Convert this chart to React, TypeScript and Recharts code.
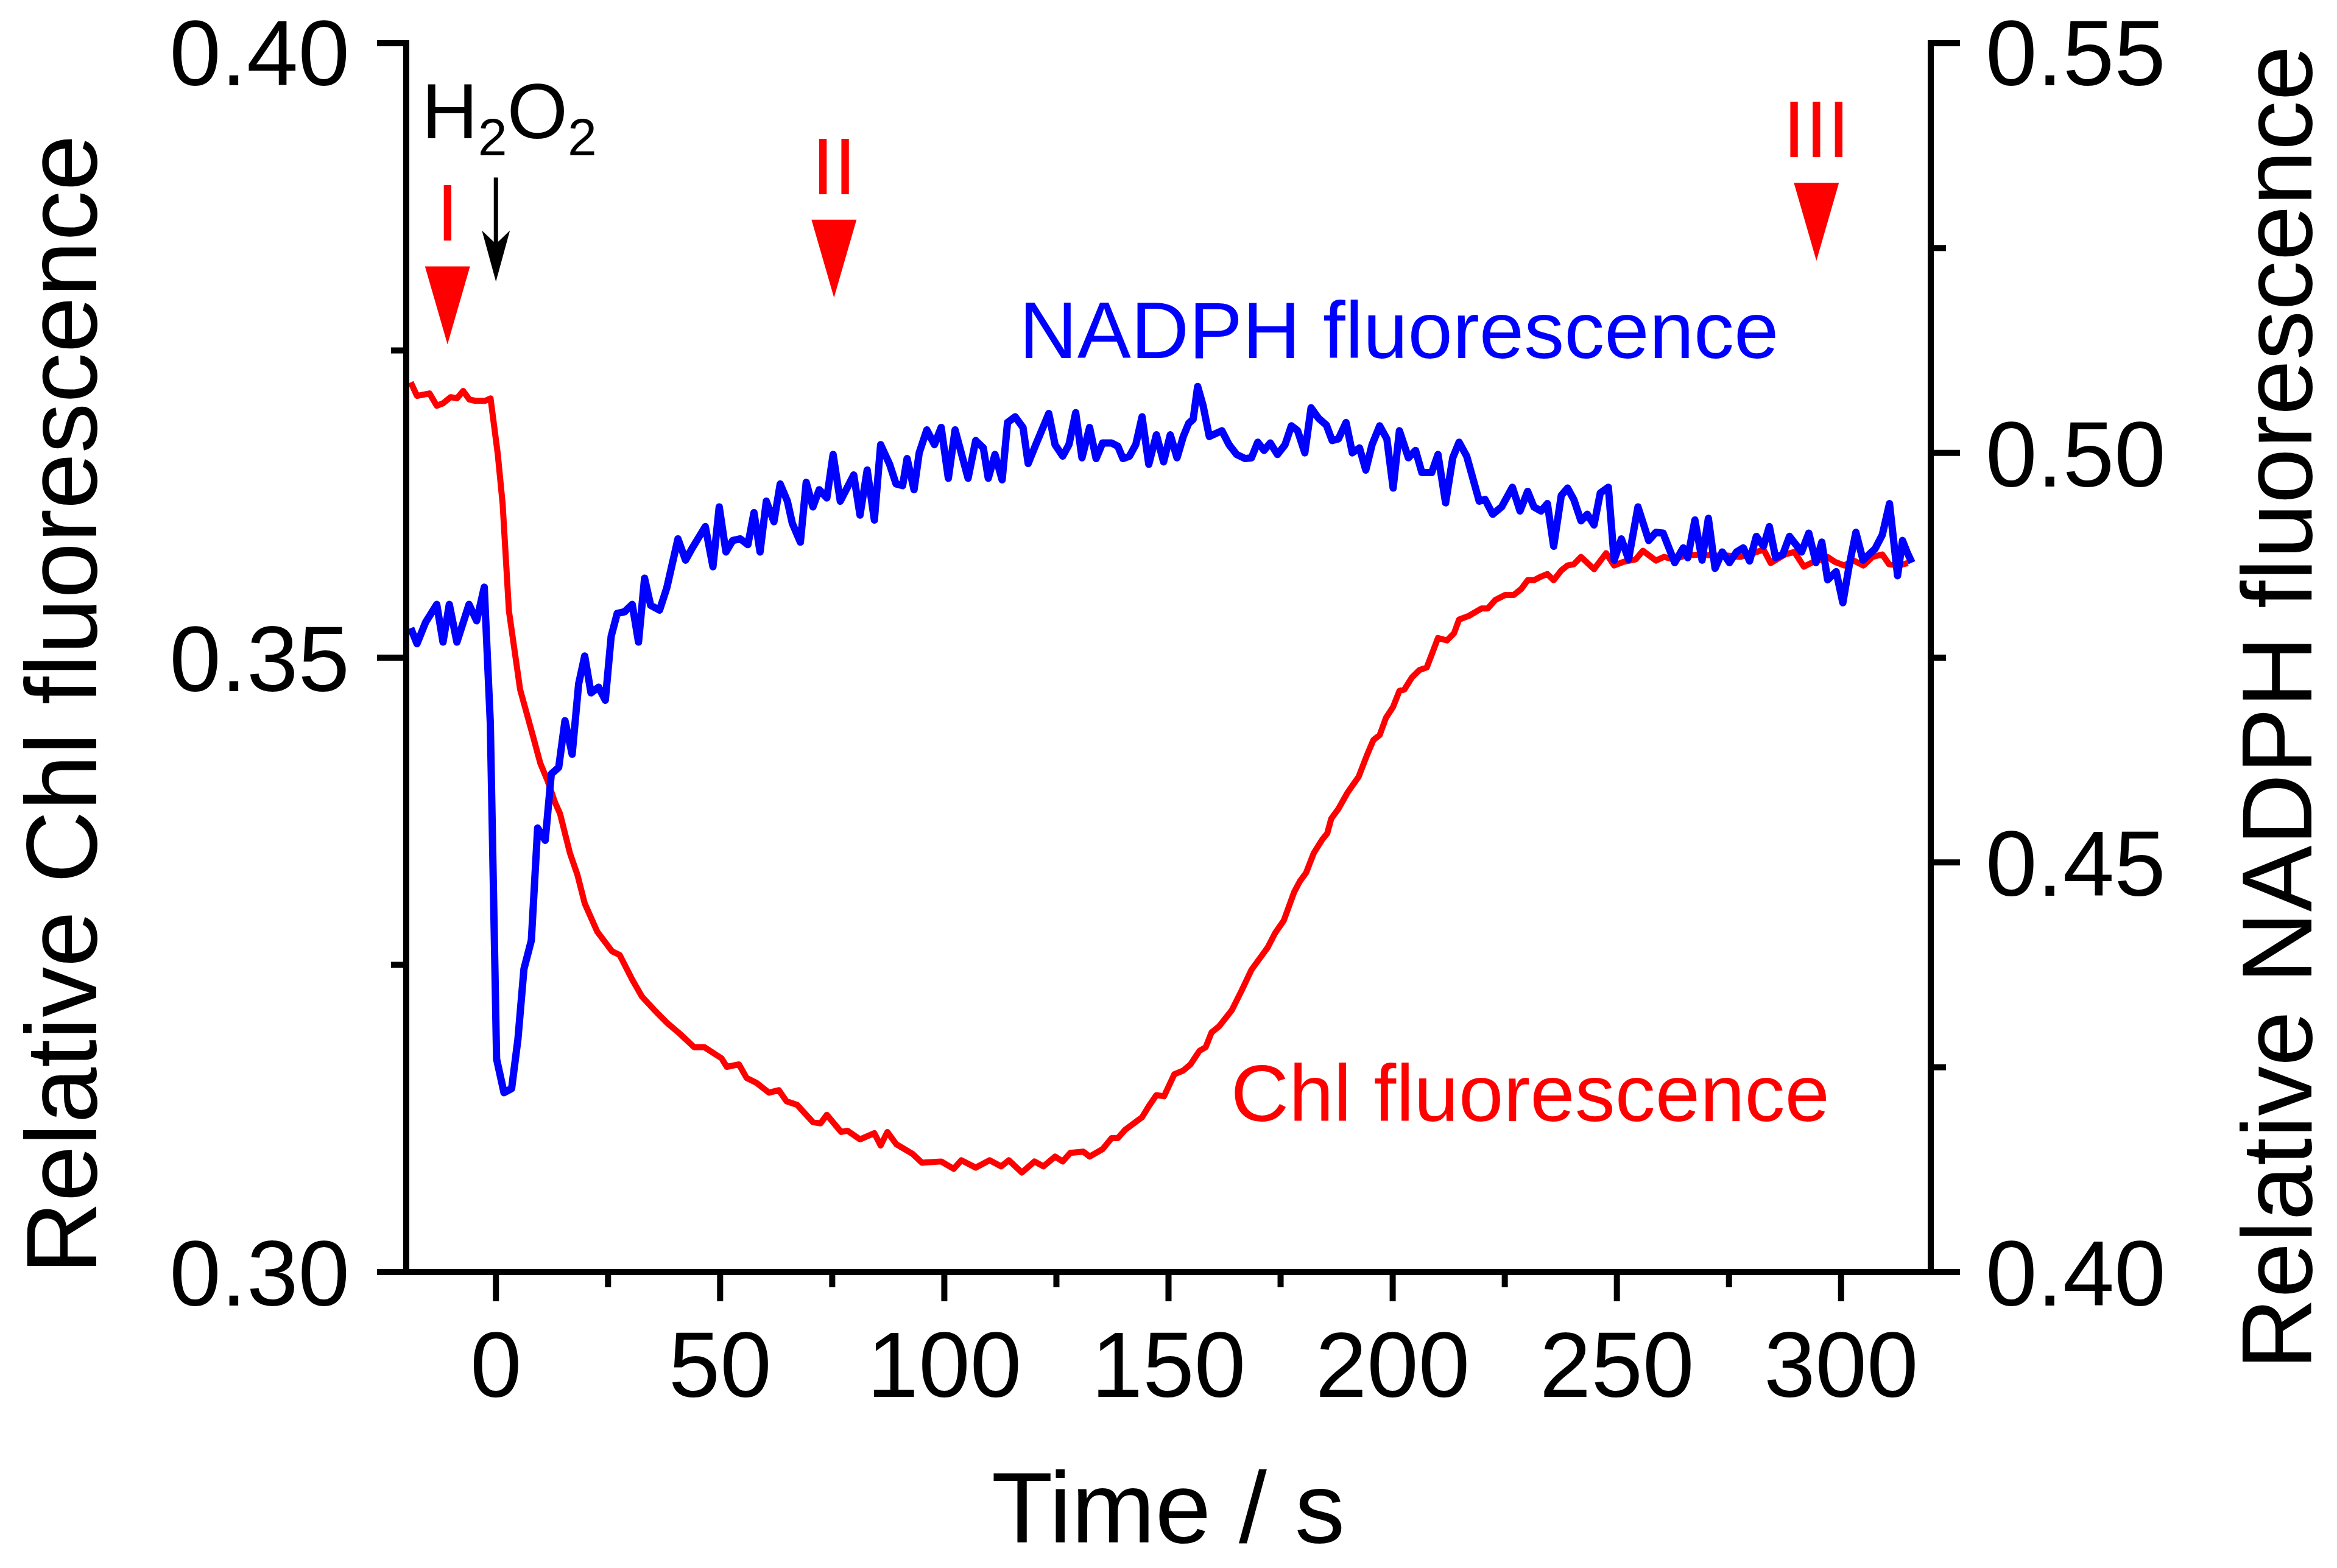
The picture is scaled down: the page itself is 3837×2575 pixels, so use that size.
import React from 'react';
import { LineChart, Line, XAxis, YAxis, ReferenceDot } from 'recharts';

const FONT = '"Liberation Sans", Arial, sans-serif';
const RED = '#ff0000';
const BLUE = '#0000ff';

// Chl fluorescence (left axis), time in s
const chlTime = [
  -19.0, -17.6, -14.8, -13.2, -11.8, -10.1, -8.7, -7.3, -5.9, -4.6, -2.4, -1.2, 0.4, 1.5, 2.9, 5.4, 8.2, 9.9,
  11.5, 13.2, 14.3, 16.5, 18.2, 19.8, 22.6, 25.9, 27.6, 30.4, 32.6, 35.4, 38.1, 41.0, 44.2, 46.5, 50.3, 51.5,
  54.2, 55.9, 58.1, 60.9, 63.1, 64.8, 67.2, 70.7, 72.4, 73.8, 77.0, 78.4, 81.2, 84.4, 85.8, 87.3, 89.3, 93.0,
  95.0, 99.3, 102.1, 103.8, 107.0, 110.1, 112.7, 114.4, 117.3, 120.1, 122.1, 124.7, 126.4, 128.1, 131.0, 132.4,
  135.3, 137.3, 138.7, 140.4, 144.1, 145.6, 147.3, 149.0, 151.3, 153.3, 154.9, 156.9, 158.3, 159.6, 161.3,
  164.1, 166.3, 168.5, 170.5, 172.1, 173.8, 175.7, 178.0, 179.3, 180.7, 182.4, 184.3, 185.4, 186.3, 187.9,
  189.9, 192.4, 194.3, 195.7, 197.1, 198.5, 200.1, 201.5, 202.6, 204.3, 206.0, 207.6, 210.1, 212.1, 213.7,
  214.8, 217.0, 219.8, 221.2, 222.9, 225.1, 227.0, 228.7, 230.1, 231.5, 233.1, 234.5, 235.9, 237.6, 239.0,
  240.4, 242.0, 244.9, 247.6, 249.4, 251.5, 254.2, 255.8, 258.7, 260.5, 262.6, 265.3, 268.5, 271.6, 274.8,
  277.4, 279.6, 282.7, 284.3, 287.5, 289.6, 291.7, 293.3, 294.9, 297.0, 298.6, 300.7, 302.8, 305.0, 307.0,
  309.2, 310.7, 312.8, 314.9,
];
const chlValue = [
  0.3724, 0.3713, 0.3715, 0.3705, 0.3707, 0.3712, 0.3711, 0.3717, 0.371, 0.3709, 0.3709, 0.3711, 0.3666, 0.3625,
  0.3538, 0.3474, 0.3437, 0.3414, 0.34, 0.3382, 0.3373, 0.3341, 0.3323, 0.33, 0.3277, 0.3261, 0.3258, 0.3238,
  0.3224, 0.3213, 0.3203, 0.3194, 0.3183, 0.3183, 0.3174, 0.3167, 0.3169, 0.3158, 0.3154, 0.3146, 0.3148,
  0.3139, 0.3136, 0.3122, 0.3121, 0.3128, 0.3114, 0.3115, 0.3108, 0.3113, 0.3103, 0.3114, 0.3104, 0.3096,
  0.3089, 0.309, 0.3084, 0.3091, 0.3085, 0.3091, 0.3086, 0.3091, 0.3081, 0.309, 0.3086, 0.3094, 0.309, 0.3097,
  0.3098, 0.3094, 0.31, 0.3109, 0.3109, 0.3116, 0.3126, 0.3135, 0.3144, 0.3143, 0.3161, 0.3164, 0.3169, 0.318,
  0.3183, 0.3195, 0.32, 0.3213, 0.3229, 0.3246, 0.3256, 0.3264, 0.3276, 0.3286, 0.3309, 0.3318, 0.3325, 0.3341,
  0.3352, 0.3357, 0.3369, 0.3377, 0.339, 0.3403, 0.3421, 0.3433, 0.3437, 0.3451, 0.346, 0.3473, 0.3474, 0.3484,
  0.349, 0.3492, 0.3516, 0.3514, 0.352, 0.3531, 0.3534, 0.354, 0.354, 0.3547, 0.3551, 0.3551, 0.3556, 0.3563,
  0.3563, 0.3566, 0.3568, 0.3563, 0.3571, 0.3575, 0.3576, 0.3582, 0.3572, 0.3585, 0.3575, 0.3578, 0.358,
  0.3587, 0.3579, 0.3582, 0.358, 0.3583, 0.3584, 0.3583, 0.3583, 0.3582, 0.3584, 0.3588, 0.3577, 0.3584,
  0.3586, 0.3574, 0.3577, 0.3579, 0.3582, 0.3578, 0.3575, 0.3579, 0.3575, 0.3582, 0.3584, 0.3576, 0.3575,
  0.3577,
];

// NADPH fluorescence (right axis)
const nadphTime = [
  -19.0, -17.6, -15.7, -13.2, -11.8, -10.4, -8.7, -6.0, -4.3, -2.6, -1.25, 0.15, 1.8, 3.5, 4.9, 6.25, 7.9, 9.3,
  11.0, 12.35, 14.0, 15.4, 17.0, 18.45, 19.8, 21.2, 22.9, 24.4, 25.7, 27.05, 28.7, 30.4, 31.8, 33.15, 34.5,
  36.5, 38.1, 40.6, 42.3, 43.7, 46.7, 48.4, 49.8, 51.3, 52.8, 54.5, 56.2, 57.55, 58.9, 60.3, 62.0, 63.4, 65.0,
  66.1, 67.9, 69.2, 70.7, 72.1, 73.8, 75.2, 76.8, 79.8, 81.2, 82.8, 84.4, 85.8, 87.8, 89.25, 90.7, 91.7, 93.25,
  94.4, 96.1, 97.8, 99.3, 100.9, 102.4, 105.3, 107.0, 108.7, 109.8, 111.3, 112.9, 114.1, 115.8, 117.55, 118.7,
  120.4, 123.3, 124.7, 126.4, 127.8, 129.3, 130.7, 132.4, 133.85, 135.3, 137.3, 138.7, 139.85, 141.3, 142.7,
  144.1, 145.6, 147.3, 148.9, 150.4, 151.9, 153.3, 154.5, 155.5, 156.5, 157.7, 159.1, 161.9, 163.5, 165.2,
  167.1, 168.5, 169.9, 171.3, 172.7, 174.3, 176.0, 177.4, 178.8, 180.4, 181.8, 183.5, 185.2, 186.5, 187.9,
  189.6, 191.0, 192.6, 194.0, 195.4, 197.1, 198.7, 200.1, 201.5, 203.5, 205.1, 206.5, 208.7, 210.1, 211.8,
  213.4, 214.8, 216.5, 219.3, 220.6, 222.3, 224.3, 226.7, 228.4, 230.1, 231.5, 233.1, 234.5, 235.9, 237.6,
  239.0, 240.4, 242.0, 243.4, 244.9, 246.3, 248.1, 249.4, 251.0, 252.6, 254.7, 257.1, 258.7, 260.3, 262.9,
  264.8, 265.8, 267.4, 269.0, 270.4, 271.9, 273.5, 275.1, 276.7, 278.2, 279.6, 281.1, 282.7, 284.0, 285.4,
  287.0, 288.5, 291.2, 292.8, 294.4, 295.7, 297.0, 298.9, 300.4, 301.8, 303.3, 304.9, 307.6, 309.2, 310.8,
  312.6, 313.7, 314.7, 315.8,
];
const nadphValue = [
  0.4786, 0.4767, 0.4793, 0.4815, 0.4769, 0.4815, 0.4769, 0.4815, 0.4795, 0.4836, 0.467, 0.426, 0.4219, 0.4224,
  0.4284, 0.437, 0.4405, 0.4542, 0.4527, 0.4608, 0.4616, 0.4673, 0.4632, 0.4718, 0.4752, 0.4707, 0.4714,
  0.4698, 0.4776, 0.4804, 0.4806, 0.4815, 0.4769, 0.4847, 0.4814, 0.4808, 0.4835, 0.4895, 0.4869, 0.4883,
  0.491, 0.4861, 0.4934, 0.4879, 0.4893, 0.4895, 0.4888, 0.4927, 0.4879, 0.4941, 0.4916, 0.4962, 0.4941,
  0.4914, 0.4891, 0.4964, 0.4934, 0.4955, 0.4945, 0.4998, 0.4941, 0.4973, 0.4924, 0.4979, 0.4918, 0.501,
  0.4986, 0.4962, 0.496, 0.4993, 0.4955, 0.5, 0.5028, 0.501, 0.5031, 0.4969, 0.5028, 0.4969, 0.5015, 0.5006,
  0.4969, 0.4998, 0.4967, 0.5037, 0.5044, 0.5031, 0.4987, 0.501, 0.5048, 0.501, 0.4996, 0.501, 0.5049, 0.4994,
  0.5031, 0.4993, 0.5012, 0.5012, 0.5008, 0.4993, 0.4996, 0.501, 0.5044, 0.4986, 0.5022, 0.4989, 0.5022,
  0.4994, 0.502, 0.5036, 0.5041, 0.5081, 0.5058, 0.502, 0.5027, 0.501, 0.4998, 0.4993, 0.4994, 0.5013, 0.5003,
  0.5012, 0.4998, 0.501, 0.5033, 0.5027, 0.5, 0.5055, 0.5042, 0.5034, 0.5015, 0.5017, 0.5037, 0.5, 0.5006,
  0.4979, 0.501, 0.5033, 0.5017, 0.4957, 0.5027, 0.4994, 0.5003, 0.4976, 0.4976, 0.4998, 0.4939, 0.4994,
  0.5013, 0.4996, 0.4941, 0.4943, 0.4925, 0.4934, 0.4958, 0.4929, 0.4953, 0.4934, 0.4929, 0.4938, 0.4886,
  0.4948, 0.4957, 0.4943, 0.4917, 0.4925, 0.4912, 0.4951, 0.4958, 0.4869, 0.4895, 0.487, 0.4934, 0.4893,
  0.4903, 0.4902, 0.4866, 0.4884, 0.4872, 0.4918, 0.4869, 0.492, 0.4859, 0.4879, 0.4866, 0.4879, 0.4884,
  0.4868, 0.4898, 0.4886, 0.491, 0.4872, 0.4876, 0.4898, 0.4879, 0.4902, 0.4866, 0.4891, 0.4845, 0.4855,
  0.4817, 0.4862, 0.4903, 0.4869, 0.4883, 0.49, 0.4938, 0.485, 0.4893, 0.4879, 0.4866,
];

// axis ticks (major ones get a label)
const timeTicks = [0, 25, 50, 75, 100, 125, 150, 175, 200, 225, 250, 275, 300];
const chlTicks = [0.3, 0.325, 0.35, 0.375, 0.4];
const nadphTicks = [0.4, 0.425, 0.45, 0.475, 0.5, 0.525, 0.55];

// red phase markers: name, time, tip of the triangle (left axis units)
const markerNames = ['I', 'II', 'III'];
const markerTime = [-10.8, 75.4, 294.5];
const markerTip = [0.3755, 0.3793, 0.3823];

// H2O2 addition arrow tip
const addTime = 0;
const addTip = 0.3806;

const chlData = chlTime.map((t, i) => ({ t, v: chlValue[i] }));
const nadphData = nadphTime.map((t, i) => ({ t, v: nadphValue[i] }));

const MAJOR = 48;
const MINOR = 25;
const TICK_FS = 152;
const AXIS_W = 10;

const isMajorTime = (v: number) => v % 50 === 0;
const isMajorY = (v: number) => Math.abs(v * 20 - Math.round(v * 20)) < 1e-6;
// keep the topmost label inside the page
const labelY = (y: number) => Math.max(y + 55, 140);

function BottomTick(props: any) {
  const { x, y, payload } = props;
  const major = isMajorTime(payload.value);
  return (
    <g>
      <line x1={x} x2={x} y1={y} y2={y + (major ? MAJOR : MINOR)} stroke="#000" strokeWidth={AXIS_W} />
      {major && (
        <text x={x} y={y + 205} textAnchor="middle" fontSize={TICK_FS} fontFamily={FONT} fill="#000">
          {payload.value}
        </text>
      )}
    </g>
  );
}

function TopTick(props: any) {
  const { x, y, payload } = props;
  const major = isMajorTime(payload.value);
  return <line x1={x} x2={x} y1={y} y2={y - (major ? MAJOR : MINOR)} stroke="#000" strokeWidth={AXIS_W} />;
}

function LeftTick(props: any) {
  const { x, y, payload } = props;
  const major = isMajorY(payload.value);
  return (
    <g>
      <line x1={x} x2={x - (major ? MAJOR : MINOR)} y1={y} y2={y} stroke="#000" strokeWidth={AXIS_W} />
      {major && (
        <text x={x - 93} y={labelY(y)} textAnchor="end" fontSize={TICK_FS} fontFamily={FONT} fill="#000">
          {payload.value.toFixed(2)}
        </text>
      )}
    </g>
  );
}

function RightTick(props: any) {
  const { x, y, payload } = props;
  const major = isMajorY(payload.value);
  return (
    <g>
      <line x1={x} x2={x + (major ? MAJOR : MINOR)} y1={y} y2={y} stroke="#000" strokeWidth={AXIS_W} />
      {major && (
        <text x={x + 90} y={labelY(y)} textAnchor="start" fontSize={TICK_FS} fontFamily={FONT} fill="#000">
          {payload.value.toFixed(2)}
        </text>
      )}
    </g>
  );
}

const axisLine = { stroke: '#000', strokeWidth: AXIS_W, strokeLinecap: 'square' as const };

export default function App() {
  return (
    <div style={{ position: 'absolute', left: 0, top: 0, width: 3837, height: 2575, background: '#fff' }}>
      <LineChart width={3837} height={2575} margin={{ top: 71, right: 0, bottom: 0, left: 0 }}>
        <XAxis
          xAxisId="b"
          dataKey="t"
          type="number"
          domain={[-20, 320]}
          allowDataOverflow
          ticks={timeTicks}
          interval={0}
          height={486}
          tickSize={0}
          tickMargin={0}
          tickLine={false}
          axisLine={axisLine}
          tick={(p: any) => <BottomTick {...p} />}
        />
        <XAxis
          xAxisId="top"
          orientation="top"
          dataKey="t"
          type="number"
          domain={[-20, 320]}
          allowDataOverflow
          ticks={timeTicks}
          interval={0}
          height={0}
          tickSize={0}
          tickMargin={0}
          tickLine={false}
          axisLine={axisLine}
          tick={(p: any) => <TopTick {...p} />}
        />
        <YAxis
          yAxisId="left"
          type="number"
          domain={[0.3, 0.4]}
          allowDataOverflow
          ticks={chlTicks}
          interval={0}
          width={667}
          tickSize={0}
          tickMargin={0}
          tickLine={false}
          axisLine={axisLine}
          tick={(p: any) => <LeftTick {...p} />}
        />
        <YAxis
          yAxisId="right"
          orientation="right"
          type="number"
          domain={[0.4, 0.55]}
          allowDataOverflow
          ticks={nadphTicks}
          interval={0}
          width={667}
          tickSize={0}
          tickMargin={0}
          tickLine={false}
          axisLine={axisLine}
          tick={(p: any) => <RightTick {...p} />}
        />
        <Line
          data={chlData}
          dataKey="v"
          xAxisId="b"
          yAxisId="left"
          type="linear"
          stroke={RED}
          strokeWidth={10}
          strokeLinejoin="round"
          dot={false}
          isAnimationActive={false}
        />
        <Line
          data={nadphData}
          dataKey="v"
          xAxisId="b"
          yAxisId="right"
          type="linear"
          stroke={BLUE}
          strokeWidth={12}
          strokeLinejoin="round"
          dot={false}
          isAnimationActive={false}
        />
        {markerNames.map((name, i) => (
          <ReferenceDot
            key={name}
            xAxisId="b"
            yAxisId="left"
            x={markerTime[i]}
            y={markerTip[i]}
            r={0}
            shape={(p: any) => (
              <g>
                <polygon
                  points={`${p.cx - 37},${p.cy - 128} ${p.cx + 37},${p.cy - 128} ${p.cx},${p.cy}`}
                  fill={RED}
                />
                <text x={p.cx} y={p.cy - 170} textAnchor="middle" fontSize={132} fontFamily={FONT} fill={RED}>
                  {name}
                </text>
              </g>
            )}
          />
        ))}
        <ReferenceDot
          xAxisId="b"
          yAxisId="left"
          x={addTime}
          y={addTip}
          r={0}
          shape={(p: any) => (
            <g>
              <line x1={p.cx} x2={p.cx} y1={p.cy - 171} y2={p.cy - 40} stroke="#000" strokeWidth={7} />
              <polygon
                points={`${p.cx},${p.cy} ${p.cx - 23},${p.cy - 84} ${p.cx},${p.cy - 62} ${p.cx + 23},${p.cy - 84}`}
                fill="#000"
              />
              <text x={p.cx - 122} y={p.cy - 235} fontSize={128} fontFamily={FONT} fill="#000">
                H<tspan fontSize={86} dy={28}>2</tspan>
                <tspan dy={-28}>O</tspan>
                <tspan fontSize={86} dy={28}>2</tspan>
              </text>
            </g>
          )}
        />
        <ReferenceDot
          xAxisId="b"
          yAxisId="left"
          x={116.7}
          y={0.3744}
          r={0}
          shape={(p: any) => (
            <text x={p.cx} y={p.cy} fontSize={132} fontFamily={FONT} fill={BLUE}>
              NADPH fluorescence
            </text>
          )}
        />
        <ReferenceDot
          xAxisId="b"
          yAxisId="left"
          x={163.9}
          y={0.3123}
          r={0}
          shape={(p: any) => (
            <text x={p.cx} y={p.cy} fontSize={132} fontFamily={FONT} fill={RED}>
              Chl fluorescence
            </text>
          )}
        />
        <text x={1918} y={2533} textAnchor="middle" fontSize={165} fontFamily={FONT} fill="#000">
          Time / s
        </text>
        <text
          x={158}
          y={1157}
          textAnchor="middle"
          fontSize={165}
          fontFamily={FONT}
          fill="#000"
          transform="rotate(-90 158 1157)"
        >
          Relative Chl fluorescence
        </text>
        <text
          x={3795}
          y={1162}
          textAnchor="middle"
          fontSize={163}
          fontFamily={FONT}
          fill="#000"
          transform="rotate(-90 3795 1162)"
        >
          Relative NADPH fluorescence
        </text>
      </LineChart>
    </div>
  );
}
